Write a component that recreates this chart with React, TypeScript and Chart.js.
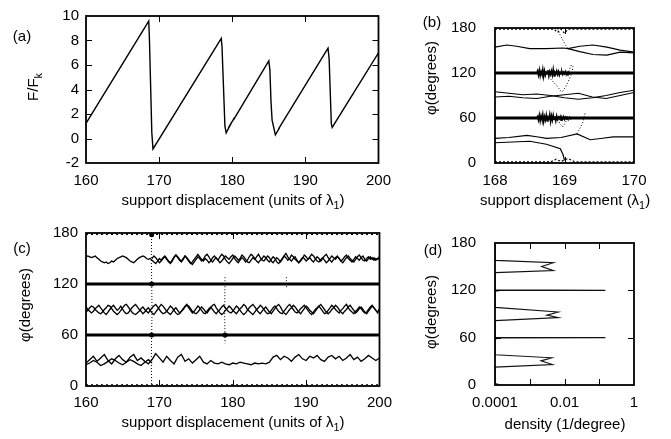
import React, { useEffect, useRef } from "react";
import { Chart, registerables } from "chart.js";

Chart.register(...registerables);

const FONT = "'Liberation Sans', Arial, Helvetica, sans-serif";
const TICK_SIZE = 15;
const TITLE_SIZE = 15;

// ---------- (a) force vs displacement ----------
const A_X = [160, 168.58, 168.68, 169.0, 169.16, 178.5, 178.6, 179.0, 179.17, 179.6, 179.45, 180.3, 180.15, 185.0, 185.15, 185.3, 185.45, 185.9, 186.5, 186.35, 193.1, 193.25, 193.55, 193.67, 200];
const A_Y = [1.24, 9.58, 8.0, 0.5, -0.85, 8.17, 7.5, 1.0, 0.46, 0.95, 0.85, 1.7, 1.5, 6.34, 5.6, 3.0, 1.5, 0.3, 0.9, 0.8, 7.38, 6.5, 1.2, 0.9, 7.0];
const A_XT = [160, 170, 180, 190, 200];
const A_YT = [-2, 0, 2, 4, 6, 8, 10];

// ---------- (b) angles, zoom 168-170 ----------
const B_FLAT_X = [168, 170];
const B_120 = [120, 120];
const B_60 = [60, 60];
const B_NOISE_X = Array.from({ length: 41 }, (_, i) => 168.6 + i * 0.0125);
const B_120_NOISE = [120, 123, 117, 124, 116, 122, 118, 125, 115, 123, 117, 121, 119, 124, 116, 122, 118, 123, 117, 125, 116, 121, 119, 123, 118, 122, 117, 121, 119, 122, 118, 121, 119, 122, 118, 121, 119, 121, 119, 120, 120];
const B_60_NOISE = [60, 62, 57, 64, 56, 63, 58, 65, 55, 62, 57, 64, 56, 61, 59, 65, 55, 63, 57, 64, 58, 62, 56, 63, 58, 61, 59, 62, 57, 61, 59, 62, 58, 61, 59, 61, 59, 60, 61, 59, 60];
const B_TOP_X = [168, 168.85, 168.9, 168.95, 169.0, 169.05, 170];
const B_TOP_Y = [178.5, 178.5, 174, 178.5, 173, 178.5, 178.5];
const B_BOT_X = [168, 168.8, 168.88, 168.95, 169.05, 169.15, 170];
const B_BOT_Y = [1.5, 1.5, 5, 2, 6, 1.5, 1.5];
const B_150A_X = [168, 168.17, 168.31, 168.5, 168.74, 168.98, 169.05, 169.22, 169.41, 169.61, 169.8, 170];
const B_150A_Y = [154.5, 157.3, 155.7, 152.5, 152.5, 153.3, 152.5, 155.7, 157.3, 154.5, 150.6, 147.8];
const B_150B_X = [169.05, 169.22, 169.41, 169.61, 169.8, 170];
const B_150B_Y = [152.5, 148.6, 144.7, 143.9, 147.8, 146.7];
const B_90_X = [168, 168.2, 168.4, 168.6, 168.8, 169.0, 169.2, 169.4, 169.6, 169.8, 170];
const B_90A = [95, 93, 91, 92, 90, 87, 85, 87, 90, 94, 97];
const B_90B = [88, 89, 87, 86, 89, 91, 93, 88, 86, 90, 94];
const B_30A_X = [168, 168.2, 168.46, 168.6, 168.74, 168.95, 169.18, 169.37, 169.55, 169.7, 170];
const B_30A_Y = [32.9, 34, 36.8, 35, 32.9, 34, 38.8, 31, 33, 34.9, 34.9];
const B_30B_X = [168, 168.25, 168.5, 168.74, 168.94, 168.98, 169.0];
const B_30B_Y = [27, 28, 29, 25, 19, 11, 3.5];
const B_T1_X = [168.9, 168.93, 168.97, 169.01, 169.05];
const B_T1_Y = [179, 172, 165, 158, 152.5];
const B_T2_X = [168.77, 168.82, 168.88, 168.93, 168.96];
const B_T2_Y = [115, 110, 104, 98, 94];
const B_T3_X = [169.06, 169.08, 169.1, 169.12, 169.11, 169.07, 169.02, 168.96];
const B_T3_Y = [122, 127, 131, 129, 120, 112, 102, 94];
const B_T4_X = [169.18, 169.22, 169.26, 169.28, 169.3];
const B_T4_Y = [39, 46, 53, 60, 68];
const B_T5_X = [168.9, 168.94, 168.97, 169.0, 169.03];
const B_T5_Y = [58, 52, 48, 52, 57];
const B_XT = [168, 169, 170];
const PHI_T = [0, 60, 120, 180];

// ---------- (c) angles 160-200 ----------
const C_XF = Array.from({ length: 161 }, (_, i) => 160 + i * 0.25);
const C_X = Array.from({ length: 81 }, (_, i) => 160 + i * 0.5);
const C_150A = [
  152, 153, 152, 151, 152, 153, 151, 149, 147, 146, 145, 146, 144, 145, 147, 146, 148, 150, 151, 152,
  153, 152, 151, 149, 147, 146, 145, 147, 149, 151, 152, 153, 152, 150, 149, 150, 148,
  146, 144, 147, 150, 148, 151, 153, 150, 147, 145, 148, 152, 154, 151, 148, 146, 149, 153, 150, 147,
  144, 146, 149, 152, 155, 152, 149, 147, 150, 148, 145, 147, 151, 153, 150, 148, 152, 155, 153, 149,
  146, 144, 147, 150, 153, 151, 148, 150, 154, 152, 149, 146, 145, 148, 151, 149, 152, 155, 151, 148,
  147, 150, 153, 151, 147, 145, 148, 151, 149, 146, 149, 153, 156, 152, 149, 147, 150, 152, 148, 145,
  147, 150, 154, 152, 149, 151, 148, 146, 149, 152, 150, 147, 150, 153, 155, 151, 148, 146, 149, 151,
  153, 150, 147, 149, 152, 154, 150, 148, 146, 149, 152, 150, 148, 151, 153, 149, 147, 150, 152, 149,
  151, 148, 150, 152,
];
const C_150B = [
  150, 153, 151, 148, 145, 147, 150, 152, 149, 146, 144, 147, 151, 154, 152, 149, 147, 150, 153, 151,
  148, 145, 143, 146, 149, 152, 150, 147, 149, 153, 155, 152, 148, 146, 149, 151, 148, 145, 147, 150,
  153, 151, 149, 152, 154, 150, 147, 145, 148, 151, 149, 146, 148, 152, 155, 153, 150, 147, 145, 148,
  150, 153, 151, 148, 146, 149, 152, 150, 146, 144, 147, 150, 153, 151, 148, 150, 154, 152, 149, 147,
  145, 148, 151, 150, 147, 149, 152, 155, 153, 150, 147, 146, 149, 151, 148, 145, 147, 150, 153, 151,
  149, 152, 150, 147, 145, 148, 151, 153, 150, 148, 146, 149, 152, 154, 151, 148, 147, 150, 152, 149,
  151, 148, 150, 149, 150,
];
const C_90A = [
  87, 89, 92, 94, 93, 90, 88, 86, 85, 87, 90, 92, 95, 94, 91, 88, 86, 84, 86, 89,
  92, 95, 96, 93, 90, 87, 85, 84, 86, 88, 91, 93, 90, 88, 86, 89, 92, 94, 96, 93,
  90, 87, 85, 86, 88, 91, 94, 92, 89, 86, 84, 85, 88, 90, 93, 95, 94, 91, 88, 86,
  85, 87, 90, 93, 91, 88, 86, 89, 92, 95, 96, 92, 89, 86, 84, 86, 89, 91, 94, 92,
  89, 87, 85, 88, 91, 93, 96, 94, 90, 88, 86, 84, 87, 90, 92, 95, 93, 90, 87, 85,
  86, 89, 92, 94, 91, 88, 86, 85, 88, 91, 94, 96, 93, 90, 87, 86, 88, 91, 93, 95,
  92, 89, 86, 84, 87, 90, 92, 94, 91, 88, 85, 86, 89, 92, 95, 93, 90, 88, 86, 89,
  91, 94, 96, 92, 89, 87, 85, 88, 90, 93, 91, 88, 86, 87, 90, 93, 95, 92, 89, 87,
  90,
];
const C_90B = [
  93, 90, 88, 86, 88, 91, 93, 95, 92, 89, 86, 84, 87, 90, 93, 95, 92, 89, 91, 94,
  90, 87, 85, 86, 89, 92, 94, 96, 93, 90, 88, 85, 87, 90, 92, 89, 86, 84, 87, 90,
  93, 96, 94, 91, 88, 86, 84, 87, 90, 92, 89, 86, 88, 91, 94, 96, 92, 89, 86, 88,
  91, 94, 92, 89, 86, 85, 88, 91, 93, 90, 87, 85, 88, 90, 93, 95, 92, 89, 87, 86,
  88, 91, 94, 92, 89, 86, 84, 86, 89, 92, 94, 96, 93, 90, 87, 85, 88, 91, 93, 90,
  87, 85, 88, 91, 94, 96, 93, 89, 86, 84, 87, 90, 92, 95, 93, 90, 87, 85, 88, 91,
  94, 92, 89, 87, 85, 88, 91, 94, 96, 93, 90, 87, 85, 87, 90, 92, 95, 93, 90, 87,
  85, 88, 90, 93, 95, 92, 89, 86, 88, 91, 93, 90, 87, 85, 88, 91, 94, 92, 89, 86,
  91,
];
const C_30A = [27, 31, 35, 29, 33, 37, 30, 26, 32, 36, 31, 28, 34, 37, 30, 33, 29, 26, 31, 38, 33, 28, 35, 30, 26, 34, 37, 29, 32, 27, 31, 35, 28, 26, 30, 27, 26, 28, 26, 25, 27, 26, 28, 27, 26, 25, 27, 26, 27, 26, 28, 34, 36, 31, 35, 33, 29, 34, 37, 32, 30, 35, 33, 36, 31, 29, 34, 36, 32, 35, 30, 33, 37, 31, 34, 29, 32, 36, 33, 30, 33];
const C_30B = [25, 27, 30, 28, 24, 26, 29, 32, 30, 27, 25, 28, 31, 29, 26, 24, 28, 31, 27];
const C_FLAT_X = [160, 200];
const C_120 = [120, 120];
const C_60 = [60, 60];
const C_TOP = [178.5, 178.5];
const C_BOT = [1.5, 1.5];
const C_V1_X = [168.95, 168.9, 168.95, 169.0, 168.95, 168.9, 168.95];
const C_V1_Y = [180, 150, 125, 90, 60, 30, 0];
const C_V2_X = [178.95, 178.9, 178.95];
const C_V2_Y = [128, 90, 50];
const C_V3_X = [187.3, 187.35];
const C_V3_Y = [128, 115];
const C_BLOB_X = [168.95, 168.95, 178.95, 168.95];
const C_BLOB_Y = [120, 60, 60, 178];

// ---------- (d) density ----------
const D_DENS = [0.00013, 0.0001, 0.0001, 0.0045, 0.0021, 0.0043, 0.0001, 0.0001, 0.00013, 0.0001, 0.15, 0.0001, 0.0001, 0.0066, 0.0031, 0.0066, 0.0001, 0.0001, 0.00013, 0.0001, 0.15, 0.0001, 0.0001, 0.0048, 0.0022, 0.0048, 0.0001, 0.0001];
const D_ANG = [0.5, 2, 22.7, 25.9, 30.6, 34.5, 38.4, 58.5, 59.3, 59.6, 60, 60.6, 81.6, 85.5, 88.6, 92.5, 98.4, 118.8, 119.4, 119.7, 120, 120.6, 142.4, 145, 150.2, 155, 158, 180];
const D_XT = [0.0001, 0.01, 1];
const D_XT_LABELS = ["0.0001", "0.01", "1"];
const D_XMINOR = [0.001, 0.01, 0.1];

type Seg = { t: string; sub?: boolean };
type Lab = { segs: Seg[]; x: number; y: number; rot?: boolean; size?: number };

function drawRich(ctx: CanvasRenderingContext2D, lab: Lab) {
  const size = lab.size ?? TITLE_SIZE;
  const sub = size * 0.72;
  ctx.save();
  ctx.translate(lab.x, lab.y);
  if (lab.rot) ctx.rotate(-Math.PI / 2);
  ctx.fillStyle = "#000";
  ctx.textBaseline = "middle";
  ctx.textAlign = "left";
  const ws = lab.segs.map((s) => {
    ctx.font = `${s.sub ? sub : size}px ${FONT}`;
    return ctx.measureText(s.t).width;
  });
  let x = -ws.reduce((a, b) => a + b, 0) / 2;
  lab.segs.forEach((s, i) => {
    ctx.font = `${s.sub ? sub : size}px ${FONT}`;
    ctx.fillText(s.t, x, s.sub ? size * 0.32 : 0);
    x += ws[i];
  });
  ctx.restore();
}

function framePlugin(xIn: number[], yIn: number[], labels: Lab[]) {
  return {
    id: "frame",
    afterDraw(chart: any) {
      const { ctx, chartArea: ca, scales } = chart;
      ctx.save();
      ctx.strokeStyle = "#000";
      ctx.lineWidth = 1;
      ctx.beginPath();
      const tl = 6;
      xIn.forEach((v) => {
        const p = Math.round(scales.x.getPixelForValue(v)) + 0.5;
        ctx.moveTo(p, ca.bottom);
        ctx.lineTo(p, ca.bottom - tl);
        ctx.moveTo(p, ca.top);
        ctx.lineTo(p, ca.top + tl);
      });
      yIn.forEach((v) => {
        const p = Math.round(scales.y.getPixelForValue(v)) + 0.5;
        ctx.moveTo(ca.left, p);
        ctx.lineTo(ca.left + tl, p);
        ctx.moveTo(ca.right, p);
        ctx.lineTo(ca.right - tl, p);
      });
      ctx.stroke();
      ctx.lineWidth = 1.8;
      ctx.strokeRect(ca.left, ca.top, ca.right - ca.left, ca.bottom - ca.top);
      labels.forEach((l) => drawRich(ctx, l));
      ctx.restore();
    },
  };
}

const zip = (xs: number[], ys: number[]) => xs.map((x, i) => ({ x, y: ys[i] }));
const line = (data: any[], w: number, dash: number[] = []) => ({
  data,
  showLine: true,
  borderColor: "#000",
  backgroundColor: "#000",
  borderWidth: w,
  borderDash: dash,
  pointRadius: 0,
  tension: 0,
});

function scaleCfg(p: {
  type?: string;
  min: number;
  max: number;
  ticks: number[];
  labels?: string[];
  pad: number;
  size: number;
  isX: boolean;
}) {
  return {
    type: p.type ?? "linear",
    min: p.min,
    max: p.max,
    grid: { display: false, drawTicks: false },
    border: { display: false },
    afterBuildTicks: (s: any) => {
      s.ticks = p.ticks.map((v) => ({ value: v }));
    },
    afterFit: (s: any) => {
      if (p.isX) s.height = p.size;
      else s.width = p.size;
    },
    ticks: {
      color: "#000",
      font: { family: FONT, size: TICK_SIZE },
      padding: p.pad,
      maxRotation: 0,
      minRotation: 0,
      autoSkip: false,
      callback: (v: number) => {
        const i = p.ticks.indexOf(v);
        if (p.labels) return i >= 0 ? p.labels[i] : "";
        return String(v);
      },
    },
  };
}

function baseOptions(pad: any, x: any, y: any) {
  return {
    animation: false,
    responsive: false,
    events: [],
    layout: { padding: pad },
    plugins: { legend: { display: false }, tooltip: { enabled: false } },
    scales: { x, y },
  };
}

function buildA(canvas: HTMLCanvasElement) {
  return new Chart(canvas, {
    type: "scatter",
    data: { datasets: [line(zip(A_X, A_Y), 1.4)] },
    options: baseOptions(
      { left: 0, top: 10, right: 17, bottom: 0 },
      scaleCfg({ min: 160, max: 200, ticks: A_XT, pad: 9, size: 52, isX: true }),
      scaleCfg({ min: -2, max: 10, ticks: A_YT, pad: 7, size: 86, isX: false })
    ) as any,
    plugins: [
      framePlugin([170, 180, 190], [0, 2, 4, 6, 8], [
        { segs: [{ t: "(a)" }], x: 22, y: 37 },
        { segs: [{ t: "F/F" }, { t: "k", sub: true }], x: 34, y: 87, rot: true },
        { segs: [{ t: "support displacement (units of λ" }, { t: "1", sub: true }, { t: ")" }], x: 233, y: 201 },
      ]),
    ],
  });
}

function buildB(canvas: HTMLCanvasElement) {
  const dot = [1, 2];
  return new Chart(canvas, {
    type: "scatter",
    data: {
      datasets: [
        line(zip(B_FLAT_X, B_120), 3),
        line(zip(B_FLAT_X, B_60), 3),
        line(zip(B_NOISE_X, B_120_NOISE), 1.5),
        line(zip(B_NOISE_X, B_60_NOISE), 1.5),
        line(zip(B_TOP_X, B_TOP_Y), 1.2, [2, 2]),
        line(zip(B_BOT_X, B_BOT_Y), 1.2, [2, 2]),
        line(zip(B_150A_X, B_150A_Y), 1.2),
        line(zip(B_150B_X, B_150B_Y), 1.2),
        line(zip(B_90_X, B_90A), 1.2),
        line(zip(B_90_X, B_90B), 1.2),
        line(zip(B_30A_X, B_30A_Y), 1.2),
        line(zip(B_30B_X, B_30B_Y), 1.2),
        line(zip(B_T1_X, B_T1_Y), 1, dot),
        line(zip(B_T2_X, B_T2_Y), 1, dot),
        line(zip(B_T3_X, B_T3_Y), 1, dot),
        line(zip(B_T4_X, B_T4_Y), 1, dot),
        line(zip(B_T5_X, B_T5_Y), 1, dot),
      ],
    },
    options: baseOptions(
      { left: 0, top: 10, right: 37, bottom: 0 },
      scaleCfg({ min: 168, max: 170, ticks: B_XT, pad: 9, size: 52, isX: true }),
      scaleCfg({ min: 0, max: 180, ticks: PHI_T, pad: 19, size: 95, isX: false })
    ) as any,
    plugins: [
      framePlugin([169], [60, 120], [
        { segs: [{ t: "(b)" }], x: 32, y: 23 },
        { segs: [{ t: "φ(degrees)" }], x: 32, y: 78, rot: true },
        { segs: [{ t: "support displacement (λ" }, { t: "1", sub: true }, { t: ")" }], x: 165, y: 201 },
      ]),
    ],
  });
}

function buildC(canvas: HTMLCanvasElement) {
  const dot = [1, 2];
  const blobs = {
    data: zip(C_BLOB_X, C_BLOB_Y),
    showLine: false,
    pointRadius: 2.5,
    pointBackgroundColor: "#000",
    pointBorderWidth: 0,
  };
  return new Chart(canvas, {
    type: "scatter",
    data: {
      datasets: [
        line(zip(C_XF, C_150A), 1.3),
        line(zip(C_XF.slice(36), C_150B), 1.3),
        line(zip(C_XF, C_90A), 1.3),
        line(zip(C_XF, C_90B), 1.3),
        line(zip(C_X, C_30A), 1.3),
        line(zip(C_X.slice(0, 19), C_30B), 1.3),
        line(zip(C_FLAT_X, C_120), 3),
        line(zip(C_FLAT_X, C_60), 3),
        line(zip(C_FLAT_X, C_TOP), 1.2, [2, 3]),
        line(zip(C_FLAT_X, C_BOT), 1.2, [2, 3]),
        line(zip(C_V1_X, C_V1_Y), 1, dot),
        line(zip(C_V2_X, C_V2_Y), 1, dot),
        line(zip(C_V3_X, C_V3_Y), 1, dot),
        blobs,
      ],
    },
    options: baseOptions(
      { left: 0, top: 18, right: 17, bottom: 0 },
      scaleCfg({ min: 160, max: 200, ticks: A_XT, pad: 8, size: 53, isX: true }),
      scaleCfg({ min: 0, max: 180, ticks: PHI_T, pad: 8, size: 86, isX: false })
    ) as any,
    plugins: [
      framePlugin([170, 180, 190], [60, 120], [
        { segs: [{ t: "(c)" }], x: 22, y: 34 },
        { segs: [{ t: "φ(degrees)" }], x: 26, y: 90, rot: true },
        { segs: [{ t: "support displacement (units of λ" }, { t: "1", sub: true }, { t: ")" }], x: 233, y: 208 },
      ]),
    ],
  });
}

function buildD(canvas: HTMLCanvasElement) {
  return new Chart(canvas, {
    type: "scatter",
    data: { datasets: [{ ...line(zip(D_DENS, D_ANG), 1.1), borderColor: "#111" }] },
    options: baseOptions(
      { left: 0, top: 19, right: 37, bottom: 0 },
      scaleCfg({ type: "logarithmic", min: 0.0001, max: 1, ticks: D_XT, labels: D_XT_LABELS, pad: 9, size: 54, isX: true }),
      scaleCfg({ min: 0, max: 180, ticks: PHI_T, pad: 19, size: 95, isX: false })
    ) as any,
    plugins: [
      framePlugin(D_XMINOR, [60, 120], [
        { segs: [{ t: "(d)" }], x: 33, y: 36 },
        { segs: [{ t: "φ(degrees)" }], x: 32, y: 97, rot: true },
        { segs: [{ t: "density (1/degree)" }], x: 165, y: 210 },
      ]),
    ],
  });
}

export default function App() {
  const ra = useRef<HTMLCanvasElement>(null);
  const rb = useRef<HTMLCanvasElement>(null);
  const rc = useRef<HTMLCanvasElement>(null);
  const rd = useRef<HTMLCanvasElement>(null);
  useEffect(() => {
    const charts = [
      buildA(ra.current!),
      buildB(rb.current!),
      buildC(rc.current!),
      buildD(rd.current!),
    ];
    return () => charts.forEach((c) => c.destroy());
  }, []);
  const abs = (l: number, t: number): React.CSSProperties => ({ position: "absolute", left: l, top: t });
  return (
    <div style={{ position: "fixed", left: 0, top: 0, width: 671, height: 439, background: "#fff", overflow: "hidden" }}>
      <canvas ref={ra} width={400} height={215} style={abs(0, 0)} />
      <canvas ref={rb} width={271} height={215} style={abs(400, 0)} />
      <canvas ref={rc} width={400} height={224} style={abs(0, 215)} />
      <canvas ref={rd} width={271} height={224} style={abs(400, 215)} />
    </div>
  );
}
